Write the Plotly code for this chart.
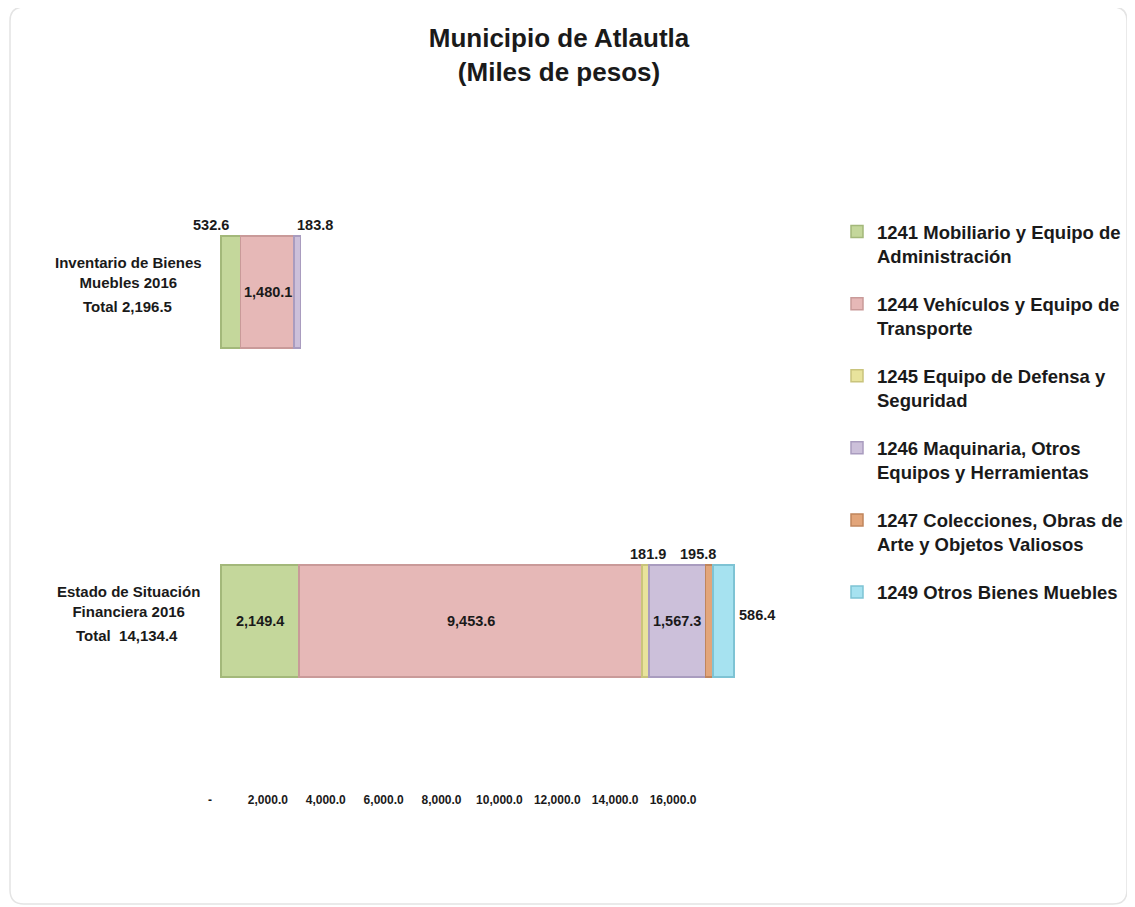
import plotly.graph_objects as go
import numpy as np

# ---------------- data ----------------
category_names = ["Estado de Situación<br>Financiera 2016", "Inventario de Bienes<br>Muebles 2016"]
category_totals = ["Total  14,134.4", "Total 2,196.5"]

series_names = [
    "1241 Mobiliario y Equipo de<br>Administración",
    "1244 Vehículos y Equipo de<br>Transporte",
    "1245 Equipo de Defensa y<br>Seguridad",
    "1246 Maquinaria, Otros<br>Equipos y Herramientas",
    "1247 Colecciones, Obras de<br>Arte y Objetos Valiosos",
    "1249 Otros Bienes Muebles",
]
mobiliario = [2149.4, 532.6]
vehiculos = [9453.6, 1480.1]
defensa = [181.9, None]
maquinaria = [1567.3, 183.8]
colecciones = [195.8, None]
otros = [586.4, None]
series_values = [mobiliario, vehiculos, defensa, maquinaria, colecciones, otros]

axis_ticks = [0, 2000, 4000, 6000, 8000, 10000, 12000, 14000, 16000]
axis_tick_labels = ["-", "2,000.0", "4,000.0", "6,000.0", "8,000.0",
                    "10,000.0", "12,000.0", "14,000.0", "16,000.0"]

# ---------------- style ----------------
fill_colors = ["#c4d79b", "#e6b8b7", "#e8e39c", "#ccc0da", "#e2a57a", "#a6e2f0"]
line_colors = ["#a3b87a", "#c99a99", "#c9c47c", "#a99cbf", "#c0855c", "#7ec3d4"]
# label placement per (series, category): (mode, xanchor, xshift)
label_style = {
    (0, 0): ("in", "center", 0), (1, 0): ("in", "center", 0),
    (2, 0): ("above", "center", 3), (3, 0): ("in", "center", 0),
    (4, 0): ("above", "right", 9), (5, 0): ("right", "left", 3),
    (0, 1): ("above", "right", 0), (1, 1): ("in", "center", 1),
    (3, 1): ("above", "left", -2),
}
BAR_W = 0.34
FONT = "Arial, Liberation Sans, sans-serif"
TXT = "#1a1a1a"

OFF = 8                 # page body margin
W, H = 1135 - OFF, 907 - OFF
ML = 190 - OFF          # plot-area left (page px 190)
PR = 802 - OFF          # plot-area right (page px 802)
PW = PR - ML
MT = 127 - OFF
PB = 788 - OFF
MB = H - PB
PH = PB - MT

def px_x(p):
    return (p - OFF - ML) / PW

def px_y(p):
    return (PB - (p - OFF)) / PH

# main value axis: 0 at page x 221
S_MAIN = 0.0363
x_main = [-(221 - 190) / S_MAIN, (802 - 221) / S_MAIN]
# label axis as drawn in the reference: 0 at page x 209, 0.02894 px per unit
S_LAB = 0.02894
x_lab = [-(210 - 190) / S_LAB, (802 - 210) / S_LAB]

fig = go.Figure()
ypos = list(range(len(category_names)))

for i, (name, vals) in enumerate(zip(series_names, series_values)):
    fig.add_trace(go.Bar(
        y=ypos, x=vals, orientation="h", name="<b>" + name + "</b>",
        width=BAR_W, legendgroup=f"g{i}",
        marker=dict(color=fill_colors[i], line=dict(color=line_colors[i], width=1.5)),
        hoverinfo="skip",
    ))

# invisible trace for the label axis
fig.add_trace(go.Scatter(x=axis_ticks, y=[-0.4] * len(axis_ticks), xaxis="x2",
                         mode="markers", marker=dict(opacity=0), showlegend=False,
                         hoverinfo="skip"))

annotations = []
vals_arr = np.array([[np.nan if v is None else v for v in s] for s in series_values])
for c in ypos:
    col = np.nan_to_num(vals_arr[:, c])
    ends = np.cumsum(col)
    starts = ends - col
    for s in range(len(series_values)):
        v = series_values[s][c]
        if v is None:
            continue
        mode, xa, xs = label_style[(s, c)]
        txt = f"<b>{v:,.1f}</b>"
        mid = (starts[s] + ends[s]) / 2
        if mode == "in":
            annotations.append(dict(x=mid, y=c, xref="x", yref="y", text=txt, showarrow=False,
                                    xanchor=xa, yanchor="middle", xshift=xs))
        elif mode == "above":
            annotations.append(dict(x=mid, y=c + BAR_W / 2, xref="x", yref="y", text=txt,
                                    showarrow=False, xanchor=xa, yanchor="bottom",
                                    xshift=xs, yshift=1))
        else:
            annotations.append(dict(x=ends[s], y=c, xref="x", yref="y", text=txt,
                                    showarrow=False, xanchor=xa, yanchor="middle",
                                    xshift=xs, yshift=6))
    # category labels
    annotations.append(dict(x=px_x(128), y=c, xref="paper", yref="y",
                            text="<b>" + category_names[c] + "</b>", showarrow=False,
                            xanchor="center", yanchor="middle", align="center", yshift=20,
                            font=dict(size=15)))
    annotations.append(dict(x=px_x(127), y=c, xref="paper", yref="y",
                            text="<b>" + category_totals[c] + "</b>", showarrow=False,
                            xanchor="center", yanchor="middle", align="center", yshift=-14,
                            font=dict(size=15)))

# rounded outer frame (page px)
fx0, fx1, fy0, fy1, rad = 10, 1127, 7, 904, 14
rx, ry = rad / PW, rad / PH
X0, X1, Y0, Y1 = px_x(fx0), px_x(fx1), px_y(fy1), px_y(fy0)
frame_path = (f"M {X0 + rx},{Y1} L {X1 - rx},{Y1} Q {X1},{Y1} {X1},{Y1 - ry} "
              f"L {X1},{Y0 + ry} Q {X1},{Y0} {X1 - rx},{Y0} "
              f"L {X0 + rx},{Y0} Q {X0},{Y0} {X0},{Y0 + ry} "
              f"L {X0},{Y1 - ry} Q {X0},{Y1} {X0 + rx},{Y1} Z")

fig.update_layout(
    width=W, height=H,
    paper_bgcolor="white", plot_bgcolor="white",
    margin=dict(l=ML, r=W - PR, t=MT, b=MB, autoexpand=False),
    font=dict(family=FONT, size=14.5, color=TXT),
    barmode="stack",
    title=dict(text="<b>Municipio de Atlautla<br>(Miles de pesos)</b>",
               x=(559 - OFF) / W, xanchor="center", xref="container",
               y=1 - (47 - OFF) / H, yanchor="top", yref="container",
               font=dict(size=26, color=TXT, family=FONT)),
    xaxis=dict(range=x_main, visible=False, fixedrange=True),
    xaxis2=dict(range=x_lab, overlaying="x", anchor="y", side="bottom",
                tickvals=axis_ticks, ticktext=["<b>" + t + "</b>" for t in axis_tick_labels],
                showgrid=False, zeroline=False, showline=False, ticks="",
                ticklabelstandoff=3,
                tickfont=dict(family=FONT, size=12, color=TXT)),
    yaxis=dict(range=[-0.5076, 1.5015], visible=False, fixedrange=True),
    legend=dict(x=px_x(837), y=px_y(213), xanchor="left", yanchor="top",
                traceorder="grouped", tracegroupgap=21, valign="top",
                font=dict(size=18.5, color=TXT, family=FONT),
                bgcolor="rgba(0,0,0,0)"),
    annotations=annotations,
    shapes=[dict(type="path", xref="paper", yref="paper", path=frame_path,
                 line=dict(color="#e4e4e4", width=1.5), layer="below")],
    showlegend=True,
)

fig.write_html("out.html")
